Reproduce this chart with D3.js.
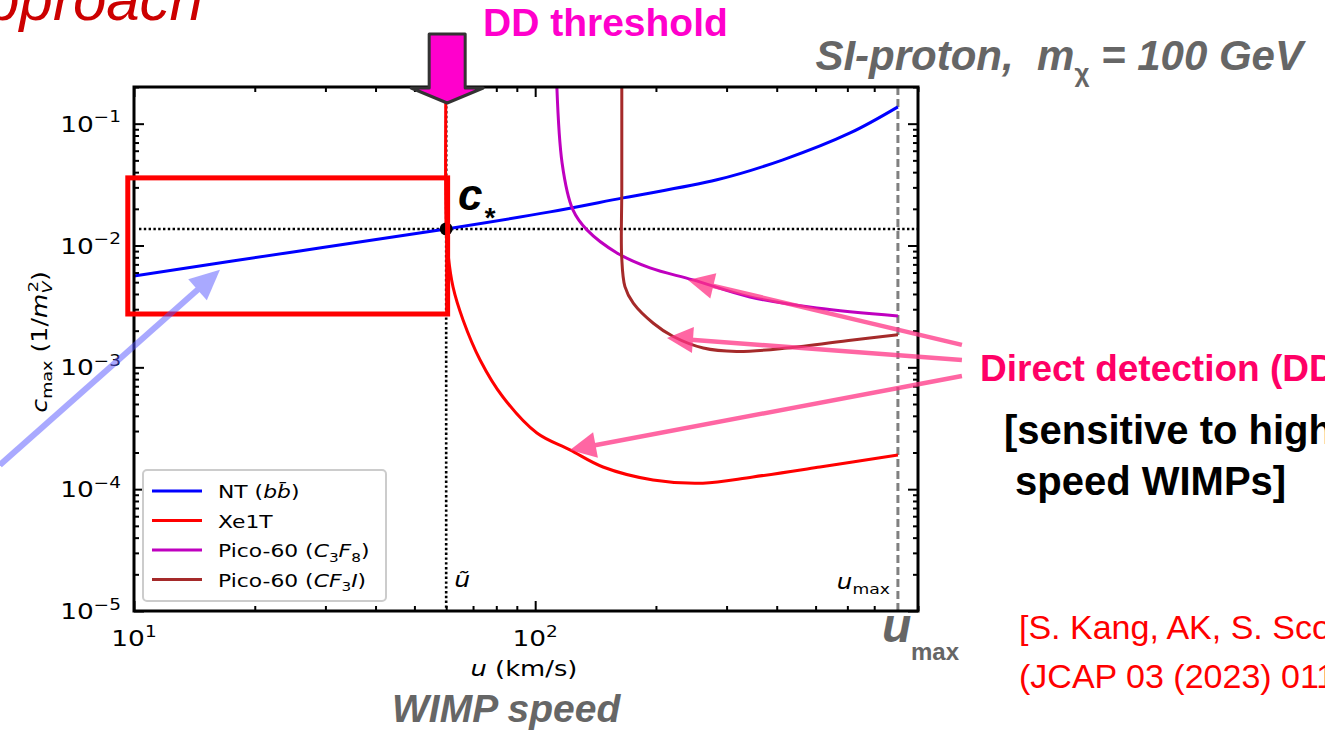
<!DOCTYPE html>
<html>
<head>
<meta charset="utf-8">
<script src="https://cdn.jsdelivr.net/npm/d3@7"></script>
<style>
  body { margin: 0; background: #fff; }
  svg { display: block; }
  text { white-space: pre; }
</style>
</head>
<body>
<svg id="chart" width="1325" height="732"></svg>
<script>
// curves: u (km/s) and c_max (1/m_V^2)
const ntU = [10, 25.9, 60, 108.9, 165.6, 283.9, 414.6, 609.5, 802];
const ntC = [0.00562, 0.00903, 0.01368, 0.01888, 0.0246, 0.0346, 0.0505, 0.0839, 0.1374];

const xeU = [60, 60, 60.6, 62.4, 66.1, 72.9, 83.1, 101.0, 122.1, 147.6, 196.7, 261.8, 349, 512.6, 802];
const xeC = [0.5, 0.01368, 0.00869, 0.00457, 0.00245, 0.00115, 5.71e-4, 2.89e-4, 2.10e-4, 1.52e-4, 1.19e-4, 1.12e-4, 1.26e-4, 1.52e-4, 1.91e-4];

const c3f8U = [112.3, 116.7, 124.2, 134.6, 159.9, 193.3, 247.4, 343, 503.5, 802];
const c3f8C = [0.5, 0.0476, 0.0196, 0.01343, 0.00869, 0.00655, 0.00522, 0.00378, 0.00307, 0.00264];

const cf3iU = [164.4, 164.4, 164.3, 167.4, 175.6, 197, 220.9, 262.4, 317.7, 424.3, 619.4, 802];
const cf3iC = [0.5, 0.03, 0.00811, 0.0046, 0.00336, 0.0023, 0.00179, 0.00144, 0.00135, 0.00144, 0.00168, 0.00185];

const uTilde = 60, uMax = 802, cStar = 0.01368;

const xTickExps = [1, 2];
const yTickExps = [-1, -2, -3, -4, -5];

const seriesNames = ["NT", "Xe1T", "Pico-60 (C3F8)", "Pico-60 (CF3I)"];
const seriesColors = ["#0000ff", "#ff0000", "#bf00bf", "#a52a2a"];

// annotation boxes / arrows, in data units
const boxU = [9.65, 60.5], boxC = [0.00274, 0.0359];
const blueArrow = [[4.63, 1.58e-4], [16.38, 6.31e-3]];
const pinkArrows = [
  [[1158, 1.53e-3], [240.4, 5.22e-3]],
  [[1158, 1.15e-3], [213.1, 1.74e-3]],
  [[1158, 8.49e-4], [122.1, 2.10e-4]]
];

const svg = d3.select("#chart");
const x = d3.scaleLog().domain([10, 900]).range([134, 918]);
const y = d3.scaleLog().domain([1e-5, 0.2]).range([611, 87]);
const [x0, x1] = x.range(), [y0, y1] = y.range();

svg.append("clipPath").attr("id", "plot").append("rect")
  .attr("x", x0).attr("y", y1).attr("width", x1 - x0).attr("height", y0 - y1);

const mpl = "DejaVu Sans", slide = "Liberation Sans, Arial, sans-serif";
const stretch = 1.2;  // the matplotlib figure is stretched sideways on the slide

// text made of pieces: {t, it, sub, sup, dx}
function mtext(px, py, anchor, size, parts, rot) {
  const g = svg.append("g")
    .attr("transform", `translate(${px},${py})` + (rot ? ` rotate(${rot})` : "") + ` scale(${stretch},1)`);
  const t = g.append("text").attr("text-anchor", anchor)
    .attr("font-family", mpl).attr("font-size", size).attr("fill", "#000");
  let shift = 0;
  parts.forEach(p => {
    const target = p.sub ? size * 0.25 : p.sup ? -size * 0.42 : 0;
    const s = t.append("tspan").text(p.t)
      .attr("dy", target - shift)
      .attr("font-size", (p.sub || p.sup) ? size * 0.7 : size)
      .attr("font-style", p.it ? "italic" : "normal");
    if (p.dx) s.attr("dx", p.dx);
    shift = target;
  });
  return t;
}

// minor / major ticks
const yMajor = yTickExps.map(e => Math.pow(10, e));
const yMinor = [];
[-5, -4, -3, -2, -1].forEach(e => { for (let k = 2; k <= 9; k++) { const v = k * Math.pow(10, e); if (v <= 0.2) yMinor.push(v); } });
const xMajor = xTickExps.map(e => Math.pow(10, e));
const xMinor = [];
[1, 2].forEach(e => { for (let k = 2; k <= 9; k++) xMinor.push(k * Math.pow(10, e)); });

function ticks(axisFn, pos, scale, vals, len) {
  const g = svg.append("g").attr("transform", pos)
    .call(axisFn(scale).tickValues(vals).tickSize(-len).tickFormat(""));
  g.select(".domain").remove();
  g.selectAll("line").attr("stroke", "#000").attr("stroke-width", 2);
}
ticks(d3.axisBottom, `translate(0,${y0})`, x, xMajor, 10);
ticks(d3.axisBottom, `translate(0,${y0})`, x, xMinor, 5);
ticks(d3.axisTop, `translate(0,${y1})`, x, xMajor, 10);
ticks(d3.axisTop, `translate(0,${y1})`, x, xMinor, 5);
ticks(d3.axisLeft, `translate(${x0},0)`, y, yMajor, 10);
ticks(d3.axisLeft, `translate(${x0},0)`, y, yMinor, 5);
ticks(d3.axisRight, `translate(${x1},0)`, y, yMajor, 10);
ticks(d3.axisRight, `translate(${x1},0)`, y, yMinor, 5);

// tick labels
xTickExps.forEach(e => mtext(x(Math.pow(10, e)), y0 + 35, "middle", 22, [{t: "10"}, {t: String(e), sup: true}]));
yTickExps.forEach(e => mtext(x0 - 13, y(Math.pow(10, e)) + 8, "end", 22, [{t: "10"}, {t: "\u2212" + (-e), sup: true}]));

// axis labels
mtext((x0 + x1) / 2 - 2, 676, "middle", 21.5, [{t: "u", it: true}, {t: " (km/s)"}]);
mtext(47, 342, "middle", 21, [{t: "c", it: true}, {t: "max", sub: true}, {t: " (1/"}, {t: "m", it: true},
  {t: "V", it: true, sub: true}, {t: "2", sup: true, dx: -9}, {t: ")"}], -90);

// reference lines
const plot = svg.append("g").attr("clip-path", "url(#plot)");
plot.append("line").attr("x1", x0 + 5).attr("x2", x1).attr("y1", y(cStar)).attr("y2", y(cStar))
  .attr("stroke", "#000").attr("stroke-width", 2.6).attr("stroke-dasharray", "2.4,2.4");
plot.append("line").attr("x1", x(uTilde)).attr("x2", x(uTilde)).attr("y1", y1).attr("y2", y0)
  .attr("stroke", "#000").attr("stroke-width", 2.6).attr("stroke-dasharray", "2.4,2.4");
plot.append("line").attr("x1", x(uMax)).attr("x2", x(uMax)).attr("y1", y1).attr("y2", y0)
  .attr("stroke", "#808080").attr("stroke-width", 3).attr("stroke-dasharray", "8,4");

// curves
const line = d3.line().x(d => x(d[0])).y(d => y(d[1])).curve(d3.curveCatmullRom.alpha(0.5));
const series = [d3.zip(ntU, ntC), d3.zip(xeU, xeC), d3.zip(c3f8U, c3f8C), d3.zip(cf3iU, cf3iC)];
series.forEach((s, i) => {
  plot.append("path").attr("d", line(s)).attr("fill", "none")
    .attr("stroke", seriesColors[i]).attr("stroke-width", 3);
});

// frame
svg.append("rect").attr("x", x0).attr("y", y1).attr("width", x1 - x0).attr("height", y0 - y1)
  .attr("fill", "none").attr("stroke", "#000").attr("stroke-width", 3);

// c* point
svg.append("circle").attr("cx", x(uTilde)).attr("cy", y(cStar)).attr("r", 6.5).attr("fill", "#000");

// in-axes labels
mtext(x(uTilde) + 8, 587, "start", 21, [{t: "u\u0303", it: true}]);
mtext(x(uMax) - 8, 589, "end", 20.5, [{t: "u", it: true}, {t: "max", sub: true}]);

// legend
const leg = svg.append("g");
leg.append("rect").attr("x", 143).attr("y", 470).attr("width", 243).attr("height", 131).attr("rx", 4)
  .attr("fill", "#fff").attr("fill-opacity", 0.8).attr("stroke", "#cccccc").attr("stroke-width", 2);
const legendParts = [
  [{t: "NT ("}, {t: "b", it: true}, {t: "b\u0304", it: true}, {t: ")"}],
  [{t: "Xe1T"}],
  [{t: "Pico-60 ("}, {t: "C", it: true}, {t: "3", sub: true}, {t: "F", it: true}, {t: "8", sub: true}, {t: ")"}],
  [{t: "Pico-60 ("}, {t: "CF", it: true}, {t: "3", sub: true}, {t: "I", it: true}, {t: ")"}]
];
seriesNames.forEach((n, i) => {
  const ly = 491 + i * 29.5;
  leg.append("line").attr("x1", 152).attr("x2", 202).attr("y1", ly).attr("y2", ly)
    .attr("stroke", seriesColors[i]).attr("stroke-width", 3);
  mtext(218, ly + 7, "start", 18.2, legendParts[i]);
});

// red selection box
svg.append("rect").attr("x", x(boxU[0])).attr("y", y(boxC[1]))
  .attr("width", x(boxU[1]) - x(boxU[0])).attr("height", y(boxC[0]) - y(boxC[1]))
  .attr("fill", "none").attr("stroke", "#ff0000").attr("stroke-width", 5);

// c* label
const cs = svg.append("text").attr("x", 458).attr("y", 210).attr("font-family", slide)
  .attr("font-weight", "bold").attr("font-style", "italic").attr("font-size", 44);
cs.append("tspan").text("c");
cs.append("tspan").text("*").attr("font-size", 28).attr("dy", 17).attr("dx", 1);

// arrows
function arrow(p, q, color, w, hl, hw, op) {
  const [ax, ay] = [x(p[0]), y(p[1])], [bx, by] = [x(q[0]), y(q[1])];
  const a = Math.atan2(by - ay, bx - ax);
  const cx = bx - hl * Math.cos(a), cy = by - hl * Math.sin(a);
  const nx = -Math.sin(a) * hw / 2, ny = Math.cos(a) * hw / 2;
  const g = svg.append("g").attr("opacity", op);
  g.append("line").attr("x1", ax).attr("y1", ay).attr("x2", cx + 2 * Math.cos(a)).attr("y2", cy + 2 * Math.sin(a))
    .attr("stroke", color).attr("stroke-width", w);
  g.append("path").attr("d", `M${bx},${by}L${cx + nx},${cy + ny}L${cx - nx},${cy - ny}Z`).attr("fill", color);
}
arrow(blueArrow[0], blueArrow[1], "#5555ff", 6, 30, 28, 0.5);
pinkArrows.forEach(a => arrow(a[0], a[1], "#ff3385", 4.5, 26, 26, 0.75));

// DD threshold arrow
const ax = x(uTilde) + 1;
svg.append("path")
  .attr("d", `M${ax - 18},34 L${ax + 18},34 L${ax + 18},88 L${ax + 36},88 L${ax},103 L${ax - 36},88 L${ax - 18},88 Z`)
  .attr("fill", "#ff00cc").attr("stroke", "#333").attr("stroke-width", 3).attr("stroke-linejoin", "round");

// slide texts
function stext(tx, ty, str, size, color, weight, style, anchor) {
  return svg.append("text").attr("x", tx).attr("y", ty).text(str)
    .attr("font-family", slide).attr("font-size", size).attr("fill", color)
    .attr("font-weight", weight || "normal").attr("font-style", style || "normal")
    .attr("text-anchor", anchor || "start");
}
stext(203, 20, "Approach", 60, "#cc0000", "normal", "italic", "end");
stext(483, 36, "DD threshold", 39, "#ff00cc", "bold");
const si = stext(1303, 70, "SI-proton,  ", 42, "#666666", "bold", "italic", "end");
si.append("tspan").text("m");
si.append("tspan").text("\u03c7").attr("font-size", 26).attr("font-style", "normal").attr("dy", 12);
si.append("tspan").text(" = 100 GeV").attr("dy", -12);
stext(980, 381, "Direct detection (DD)", 37, "#ff0066", "bold");
stext(1004, 444, "[sensitive to high", 40, "#000", "bold");
stext(1015, 495, "speed WIMPs]", 40, "#000", "bold");
stext(392, 722, "WIMP speed", 39, "#666666", "bold", "italic");
stext(882, 642, "u", 48, "#666666", "bold", "italic");
stext(911, 660, "max", 24, "#666666", "bold");
stext(1019, 639, "[S. Kang, AK, S. Scopel]", 34, "#ff0000");
stext(1019, 688, "(JCAP 03 (2023) 011)", 34, "#ff0000");
</script>
</body>
</html>
